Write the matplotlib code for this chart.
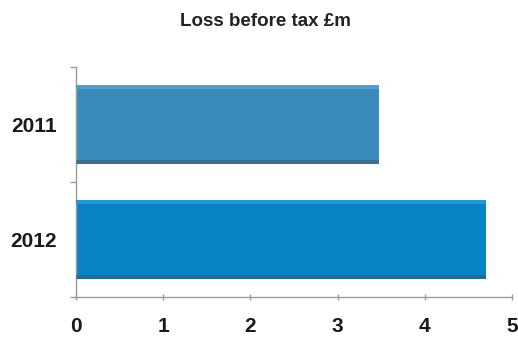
import numpy as np
import matplotlib.pyplot as plt

years = ['2011', '2012']
loss = [3.47, 4.70]
bar_colors = ['#3a8bbb', '#0883c3']
top_colors = ['#4f9fcc', '#2398d4']
x_ticks = [0, 1, 2, 3, 4, 5]

plt.rcParams['font.family'] = ['Liberation Sans', 'DejaVu Sans']

fig = plt.figure(figsize=(5.18, 3.41), dpi=100)
ax = fig.add_axes([76 / 518, 44 / 341, 436 / 518, 230 / 341])

pos = np.arange(len(years))
h = 0.68

# main bars plus a light top edge and a soft shaded bottom edge
ax.barh(pos, loss, height=h, color=bar_colors, zorder=2)
ax.barh(pos - h / 2 + 0.015, loss, height=0.03, color=top_colors, zorder=3)
ax.barh(pos + h / 2 - 0.015, loss, height=0.03, color='#3f5868', alpha=0.55, zorder=3)

ax.set_ylim(1.5, -0.5)
ax.set_xlim(0, 5)
ax.set_yticks([-0.5, 0.5, 1.5])
ax.set_yticklabels([])
ax.set_yticks(pos, minor=True)
ax.set_yticklabels(years, minor=True, fontsize=15, fontweight='bold', color='#1a1a1a')
ax.tick_params(axis='y', which='minor', length=0, pad=13.5)
ax.tick_params(axis='y', which='major', length=4, color='#9a9a9a', width=1)
ax.set_xticks(x_ticks)
ax.set_xticklabels([str(t) for t in x_ticks], fontsize=15, fontweight='bold', color='#1a1a1a')
ax.tick_params(axis='x', length=5, direction='inout', color='#9a9a9a', width=1, pad=12)

for side in ['top', 'right']:
    ax.spines[side].set_visible(False)
for side in ['left', 'bottom']:
    ax.spines[side].set_color('#9a9a9a')
    ax.spines[side].set_linewidth(1)

fig.text(265 / 518, 1 - 21 / 341, 'Loss before tax £m', ha='center', va='center',
         fontsize=13.5, fontweight='bold', color='#222222')

fig.savefig('out.png', dpi=100)
